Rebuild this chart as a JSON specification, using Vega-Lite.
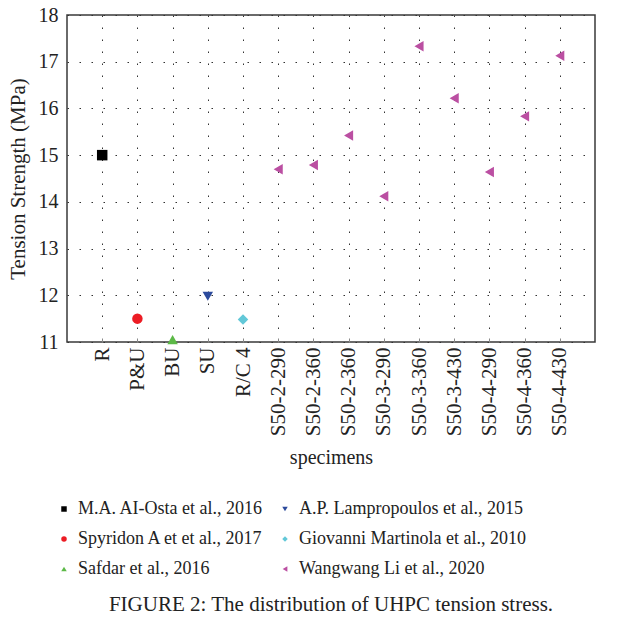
{
  "$schema": "https://vega.github.io/schema/vega-lite/v6.json",
  "width": 528,
  "height": 327,
  "autosize": "none",
  "padding": {"left": 67, "top": 15, "right": 24, "bottom": 282},
  "background": "white",
  "config": {
    "font": "Liberation Serif",
    "view": {"stroke": "#3a3a3a", "strokeWidth": 1.5},
    "axis": {"labelFont": "Liberation Serif", "titleFont": "Liberation Serif", "labelColor": "#222", "titleColor": "#222", "titleFontWeight": "normal"}
  },
  "title": {
    "text": "FIGURE 2: The distribution of UHPC tension stress.",
    "orient": "bottom",
    "anchor": "middle",
    "font": "Liberation Serif",
    "fontSize": 21,
    "fontWeight": "normal",
    "color": "#222",
    "offset": 16
  },
  "data": {
    "values": [
      {"specimen": "R", "value": 15.0, "source": "M.A. AI-Osta et al., 2016"},
      {"specimen": "P&U", "value": 11.5, "source": "Spyridon A et et al., 2017"},
      {"specimen": "BU", "value": 11.05, "source": "Safdar et al., 2016"},
      {"specimen": "SU", "value": 11.98, "source": "A.P. Lampropoulos et al., 2015"},
      {"specimen": "R/C 4", "value": 11.48, "source": "Giovanni Martinola et al., 2010"},
      {"specimen": "S50-2-290", "value": 14.7, "source": "Wangwang Li et al., 2020"},
      {"specimen": "S50-2-360", "value": 14.79, "source": "Wangwang Li et al., 2020"},
      {"specimen": "S50-2-360|2", "value": 15.42, "source": "Wangwang Li et al., 2020"},
      {"specimen": "S50-3-290", "value": 14.12, "source": "Wangwang Li et al., 2020"},
      {"specimen": "S50-3-360", "value": 17.33, "source": "Wangwang Li et al., 2020"},
      {"specimen": "S50-3-430", "value": 16.22, "source": "Wangwang Li et al., 2020"},
      {"specimen": "S50-4-290", "value": 14.64, "source": "Wangwang Li et al., 2020"},
      {"specimen": "S50-4-360", "value": 15.83, "source": "Wangwang Li et al., 2020"},
      {"specimen": "S50-4-430", "value": 17.13, "source": "Wangwang Li et al., 2020"}
    ]
  },
  "mark": {"type": "point", "filled": true, "opacity": 1, "size": 110},
  "encoding": {
    "x": {
      "field": "specimen",
      "type": "ordinal",
      "sort": null,
      "scale": {"type": "point", "padding": 1},
      "axis": {
        "title": "specimens",
        "titleFontSize": 20,
        "titlePadding": 12,
        "labelFontSize": 21,
        "labelAngle": -90,
        "labelPadding": 9,
        "labelExpr": "split(datum.label, '|')[0]",
        "domain": false,
        "ticks": true,
        "tickSize": -4,
        "tickColor": "#888",
        "grid": true,
        "gridColor": "#333",
        "gridDash": [1.5, 10.5],
        "gridWidth": 1
      }
    },
    "y": {
      "field": "value",
      "type": "quantitative",
      "scale": {"domain": [11, 18], "nice": false, "zero": false},
      "axis": {
        "title": "Tension Strength (MPa)",
        "titleFontSize": 21,
        "titlePadding": 10,
        "labelFontSize": 20,
        "labelPadding": 9,
        "values": [11, 12, 13, 14, 15, 16, 17, 18],
        "format": "d",
        "domain": false,
        "ticks": false,
        "grid": true,
        "gridColor": "#333",
        "gridDash": [1.5, 10.5],
        "gridWidth": 1
      }
    },
    "color": {
      "field": "source",
      "type": "nominal",
      "scale": {
        "domain": ["M.A. AI-Osta et al., 2016", "Spyridon A et et al., 2017", "Safdar et al., 2016", "A.P. Lampropoulos et al., 2015", "Giovanni Martinola et al., 2010", "Wangwang Li et al., 2020"],
        "range": ["#000000", "#ec1c24", "#5cb947", "#2c4a9c", "#62c8d8", "#bb4fa2"]
      },
      "legend": {
        "title": null,
        "orient": "none",
        "legendX": -12,
        "legendY": 485,
        "columns": 2,
        "columnPadding": 12,
        "rowPadding": 12,
        "labelFont": "Liberation Serif",
        "labelFontSize": 18,
        "labelColor": "#222",
        "labelLimit": 400,
        "symbolSize": 30,
        "labelOffset": 5
      }
    },
    "shape": {
      "field": "source",
      "type": "nominal",
      "scale": {
        "domain": ["M.A. AI-Osta et al., 2016", "Spyridon A et et al., 2017", "Safdar et al., 2016", "A.P. Lampropoulos et al., 2015", "Giovanni Martinola et al., 2010", "Wangwang Li et al., 2020"],
        "range": ["square", "circle", "triangle-up", "triangle-down", "diamond", "triangle-left"]
      }
    }
  }
}
